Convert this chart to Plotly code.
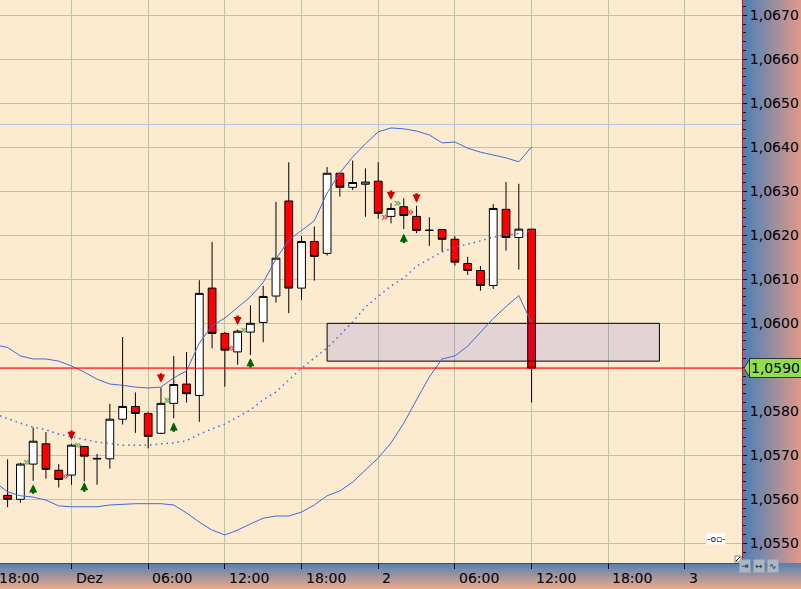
import pandas as pd
import plotly.graph_objects as go

# ---------------- data ----------------
candle_start = "2016-11-30 19:00"
opens = [1.05609, 1.05600, 1.05680, 1.05726, 1.05666, 1.05655, 1.05720, 1.05693, 1.05692, 1.05782,
         1.05811, 1.05795, 1.05750, 1.05818, 1.05862, 1.05836, 1.06080, 1.05977, 1.05935, 1.05980,
         1.06002, 1.06062, 1.06278, 1.06080, 1.06186, 1.06159, 1.06341, 1.06309, 1.06316, 1.06323,
         1.06243, 1.06265, 1.06243, 1.06212, 1.06213, 1.06191, 1.06136, 1.06120, 1.06086, 1.06259,
         1.06195, 1.06214]
highs = [1.05691, 1.05683, 1.05763, 1.05753, 1.05680, 1.05726, 1.05721, 1.05703, 1.05817, 1.05969,
         1.05843, 1.05799, 1.05854, 1.05926, 1.05935, 1.06098, 1.06185, 1.05980, 1.05986, 1.06041,
         1.06085, 1.06276, 1.06366, 1.06198, 1.06220, 1.06355, 1.06342, 1.06370, 1.06352, 1.06366,
         1.06273, 1.06284, 1.06267, 1.06241, 1.06213, 1.06198, 1.06151, 1.06130, 1.06271, 1.06321,
         1.06317, 1.06214]
lows = [1.05582, 1.05592, 1.05642, 1.05647, 1.05627, 1.05633, 1.05641, 1.05633, 1.05670, 1.05770,
        1.05751, 1.05716, 1.05748, 1.05784, 1.05820, 1.05776, 1.05943, 1.05856, 1.05906, 1.05928,
        1.05957, 1.06047, 1.06023, 1.06053, 1.06097, 1.06154, 1.06288, 1.06303, 1.06242, 1.06238,
        1.06227, 1.06214, 1.06205, 1.06176, 1.06163, 1.06131, 1.06110, 1.06074, 1.06078, 1.06165,
        1.06122, 1.05820]
closes = [1.05600, 1.05680, 1.05732, 1.05668, 1.05645, 1.05723, 1.05698, 1.05692, 1.05782, 1.05811,
          1.05795, 1.05743, 1.05818, 1.05861, 1.05840, 1.06068, 1.05977, 1.05939, 1.05982, 1.06000,
          1.06061, 1.06148, 1.06080, 1.06186, 1.06152, 1.06341, 1.06309, 1.06320, 1.06321, 1.06250,
          1.06261, 1.06245, 1.06211, 1.06211, 1.06191, 1.06139, 1.06120, 1.06086, 1.06261, 1.06195,
          1.06214, 1.05898]

band_start = "2016-11-30 18:00"
upper_band = [1.05951, 1.05945, 1.05926, 1.05919, 1.05919, 1.05914, 1.05903, 1.05889, 1.05873, 1.05862,
              1.05859, 1.05855, 1.05853, 1.05855, 1.05876, 1.05892, 1.05955, 1.05994, 1.06012, 1.06035,
              1.06060, 1.06093, 1.06146, 1.06189, 1.06212, 1.06233, 1.06296, 1.06342, 1.06378, 1.06408,
              1.06435, 1.06444, 1.06442, 1.06437, 1.06428, 1.06410, 1.06412, 1.06398, 1.06389, 1.06383,
              1.06376, 1.06367, 1.06401]
middle_band = [1.05794, 1.05783, 1.05773, 1.05764, 1.05758, 1.05748, 1.05742, 1.05735, 1.05730, 1.05727,
               1.05723, 1.05723, 1.05723, 1.05726, 1.05728, 1.05733, 1.05748, 1.05760, 1.05771, 1.05787,
               1.05803, 1.05826, 1.05844, 1.05871, 1.05898, 1.05921, 1.05944, 1.05973, 1.06003, 1.06037,
               1.06060, 1.06085, 1.06103, 1.06130, 1.06146, 1.06162, 1.06173, 1.06180, 1.06187, 1.06196,
               1.06201, 1.06204, 1.06210]
lower_band = [1.05639, 1.05617, 1.05608, 1.05605, 1.05598, 1.05585, 1.05583, 1.05583, 1.05583, 1.05587,
              1.05589, 1.05590, 1.05590, 1.05590, 1.05587, 1.05569, 1.05548, 1.05530, 1.05519, 1.05530,
              1.05544, 1.05557, 1.05562, 1.05562, 1.05571, 1.05587, 1.05608, 1.05619, 1.05639, 1.05667,
              1.05694, 1.05728, 1.05773, 1.05826, 1.05878, 1.05919, 1.05926, 1.05948, 1.05980, 1.06011,
              1.06038, 1.06063, 1.06001]

sell_times = ["2016-12-01 00:00", "2016-12-01 07:00", "2016-12-01 13:00", "2016-12-02 01:00", "2016-12-02 03:00"]
sell_tips = [1.05735, 1.05865, 1.05996, 1.06280, 1.06274]
buy_times = ["2016-11-30 21:00", "2016-12-01 01:00", "2016-12-01 08:00", "2016-12-01 14:00", "2016-12-02 02:00"]
buy_tips = [1.05634, 1.05639, 1.05775, 1.05921, 1.06204]

green_mark_times = ["2016-11-30 20:30", "2016-12-01 00:30", "2016-12-01 07:30", "2016-12-01 13:30", "2016-12-02 01:30"]
green_mark_prices = [1.05682, 1.05722, 1.05823, 1.05983, 1.06271]
red_mark_times = ["2016-11-30 23:30", "2016-12-01 12:30", "2016-12-02 00:30", "2016-12-02 02:30"]
red_mark_prices = [1.05651, 1.05942, 1.06241, 1.06251]

zone_start, zone_end = "2016-12-01 20:00", "2016-12-02 22:00"
zone_high, zone_low = 1.06000, 1.05914
level_line = 1.06452

x_tick_times = ["2016-11-30 18:00", "2016-12-01 00:00", "2016-12-01 06:00", "2016-12-01 12:00",
                "2016-12-01 18:00", "2016-12-02 00:00", "2016-12-02 06:00", "2016-12-02 12:00",
                "2016-12-02 18:00", "2016-12-03 00:00"]
x_tick_labels = ["18:00", "Dez", "06:00", "12:00", "18:00", "2", "06:00", "12:00", "18:00", "3"]
x_range = ["2016-11-30 18:24:18", "2016-12-03 04:27:54"]
y_range = [1.054552, 1.067348]

# ---------------- geometry / style ----------------
W, H = 801, 589
PLOT_R, PLOT_B = 742, 563
BG = "#fdebd0"
GRID = "#b3c8b0"
BLUE = "#4169e1"
FONT = "DejaVu Sans"

candle_x = pd.date_range(candle_start, periods=len(opens), freq="h")
band_x = pd.date_range(band_start, periods=len(upper_band), freq="h")

fig = go.Figure()

# background gradient strips (full-figure helper axes x/y in pixel units)
fig.add_trace(go.Scatter(
    x=[PLOT_R, W, W, PLOT_R, PLOT_R], y=[H - PLOT_B, H - PLOT_B, H, H, H - PLOT_B],
    mode="lines", line=dict(width=0), fill="toself",
    fillgradient=dict(type="horizontal", colorscale=[[0, "#4a7fb8"], [1, "#e09a88"]]),
    xaxis="x", yaxis="y", hoverinfo="skip", showlegend=False))
fig.add_trace(go.Scatter(
    x=[0, W, W, 0, 0], y=[0, 0, H - PLOT_B, H - PLOT_B, 0],
    mode="lines", line=dict(width=0), fill="toself",
    fillgradient=dict(type="vertical", colorscale=[[0, "#f0aa88"], [1, "#4f80b4"]]),
    xaxis="x", yaxis="y", hoverinfo="skip", showlegend=False))

# candles
fig.add_trace(go.Candlestick(
    x=candle_x, open=opens, high=highs, low=lows, close=closes,
    increasing=dict(fillcolor="#ffffff", line=dict(color="#000000", width=1)),
    decreasing=dict(fillcolor="#ff0000", line=dict(color="#000000", width=1)),
    whiskerwidth=0, xaxis="x2", yaxis="y2", hoverinfo="skip", showlegend=False))

# horizontal level line
fig.add_trace(go.Scatter(x=x_range, y=[level_line, level_line], mode="lines",
                         line=dict(color="#a9c6e6", width=1), xaxis="x2", yaxis="y2",
                         hoverinfo="skip", showlegend=False))

# zone rectangle
fig.add_trace(go.Scatter(
    x=[zone_start, zone_end, zone_end, zone_start, zone_start],
    y=[zone_high, zone_high, zone_low, zone_low, zone_high],
    mode="lines", fill="toself", fillcolor="rgba(0,0,255,0.10)",
    line=dict(color="#000000", width=1), xaxis="x2", yaxis="y2",
    hoverinfo="skip", showlegend=False))

# bollinger bands
for vals, dash, w in [(upper_band, "solid", 1), (lower_band, "solid", 1), (middle_band, "1.5px,4px", 1.5)]:
    fig.add_trace(go.Scatter(x=band_x, y=vals, mode="lines",
                             line=dict(color=BLUE, width=w, dash=dash),
                             xaxis="x2", yaxis="y2", hoverinfo="skip", showlegend=False))

# small chevron markers
fig.add_trace(go.Scatter(x=green_mark_times, y=green_mark_prices, mode="text", text=["»"] * len(green_mark_times),
                         textfont=dict(color="#2e9a2e", size=13, family=FONT),
                         xaxis="x2", yaxis="y2", hoverinfo="skip", showlegend=False))
fig.add_trace(go.Scatter(x=red_mark_times, y=red_mark_prices, mode="text", text=["»"] * len(red_mark_times),
                         textfont=dict(color="#e02020", size=13, family=FONT),
                         xaxis="x2", yaxis="y2", hoverinfo="skip", showlegend=False))

annotations = []
# signal arrows
for t, p in zip(sell_times, sell_tips):
    annotations.append(dict(x=t, y=p, xref="x2", yref="y2", text="", showarrow=True,
                            ax=0, ay=-11, arrowhead=2, arrowsize=0.65, arrowwidth=2.5,
                            arrowcolor="#d40000", standoff=0))
for t, p in zip(buy_times, buy_tips):
    annotations.append(dict(x=t, y=p, xref="x2", yref="y2", text="", showarrow=True,
                            ax=0, ay=11, arrowhead=2, arrowsize=0.65, arrowwidth=2.5,
                            arrowcolor="#006400", standoff=0))

# x tick labels (left-aligned after the tick, as in the reference)
t0 = pd.Timestamp(x_range[0])
t1 = pd.Timestamp(x_range[1])
dom_w = PLOT_R / W
for t, lab in zip(x_tick_times, x_tick_labels):
    frac = (pd.Timestamp(t) - t0) / (t1 - t0)
    annotations.append(dict(x=frac * dom_w, y=(H - 578) / H, xref="paper", yref="paper",
                            text=lab, showarrow=False, xanchor="left", yanchor="middle", xshift=2,
                            font=dict(family=FONT, size=14, color="#000000")))

# last price tag
last = closes[-1]
annotations.append(dict(x=749 / W, y=last, xref="paper", yref="y2",
                        text=f"{last:.4f}".replace(".", ","), showarrow=False,
                        xanchor="left", yanchor="middle", bgcolor="#8fe04a",
                        bordercolor="#303030", borderwidth=1, borderpad=1,
                        font=dict(family=FONT, size=14, color="#000000")))

# small widgets
annotations.append(dict(x=726 / W, y=1 - 545 / H, xref="paper", yref="paper", text="-o\u25ab-",
                        showarrow=False, bgcolor="#ffffff", font=dict(size=9, color="#000", family=FONT),
                        borderpad=0))
for i, sym in enumerate(["\u21e5", "\u2194", "\u223f"]):
    annotations.append(dict(x=(751 + 14 * i) / W, y=1 - 573 / H, xref="paper", yref="paper", text=sym,
                            showarrow=False, bgcolor="#a9b6c6", font=dict(size=9, color="#303030", family=FONT),
                            borderpad=1))

px_per_price = PLOT_B / (y_range[1] - y_range[0])
half = 9.5 / px_per_price
shapes = [
    dict(type="line", xref="x2 domain", yref="y2", x0=0, x1=1, y0=last, y1=last,
         line=dict(color="#ff0000", width=1), layer="above"),
    dict(type="path", xref="paper", yref="y2",
         path=f"M {744 / W},{last} L {750 / W},{last + half} L {750 / W},{last - half} Z",
         fillcolor="#8fe04a", line=dict(color="#303030", width=1), layer="above"),
    dict(type="rect", xref="paper", yref="paper", x0=735 / W, x1=741 / W, y0=1 - 562 / H, y1=1 - 556 / H,
         fillcolor="#ffffff", line=dict(color="#808080", width=1), layer="above"),
    dict(type="line", xref="paper", yref="paper", x0=736 / W, x1=740 / W, y0=1 - 561 / H, y1=1 - 557 / H,
         line=dict(color="#000000", width=1), layer="above"),
]

fig.update_layout(
    width=W, height=H, margin=dict(l=0, r=0, t=0, b=0, pad=0, autoexpand=False),
    paper_bgcolor=BG, plot_bgcolor=BG, separators=",.",
    showlegend=False, hovermode=False, dragmode=False, boxgap=0.22, boxgroupgap=0.22,
    xaxis=dict(domain=[0, 1], range=[0, W], visible=False, fixedrange=True),
    yaxis=dict(domain=[0, 1], range=[0, H], visible=False, fixedrange=True),
    xaxis2=dict(domain=[0, dom_w], anchor="y2", type="date", range=x_range,
                tickvals=x_tick_times, showticklabels=False, ticks="outside", ticklen=5,
                tickcolor="#000000", showgrid=True, gridcolor=GRID, gridwidth=1,
                showline=True, linecolor="#ff0000", linewidth=1, zeroline=False,
                rangeslider=dict(visible=False), fixedrange=True, automargin=False),
    yaxis2=dict(domain=[(H - PLOT_B) / H, 1], anchor="x2", side="right", range=y_range,
                tick0=1.055, dtick=0.001, tickformat=".4f", ticks="outside", ticklen=4,
                tickcolor="#000000", showgrid=True, gridcolor=GRID, gridwidth=1,
                showline=True, linecolor="#ff0000", linewidth=1, zeroline=False,
                minor=dict(dtick=0.0002, ticks="outside", ticklen=3, tickcolor="#000000", showgrid=False),
                tickfont=dict(family=FONT, size=14, color="#000000"), fixedrange=True,
                automargin=False),
    annotations=annotations, shapes=shapes,
)

fig.write_html("out.html", config={"displayModeBar": False},
               post_script="document.body.style.margin='0';document.body.style.overflow='hidden';")
